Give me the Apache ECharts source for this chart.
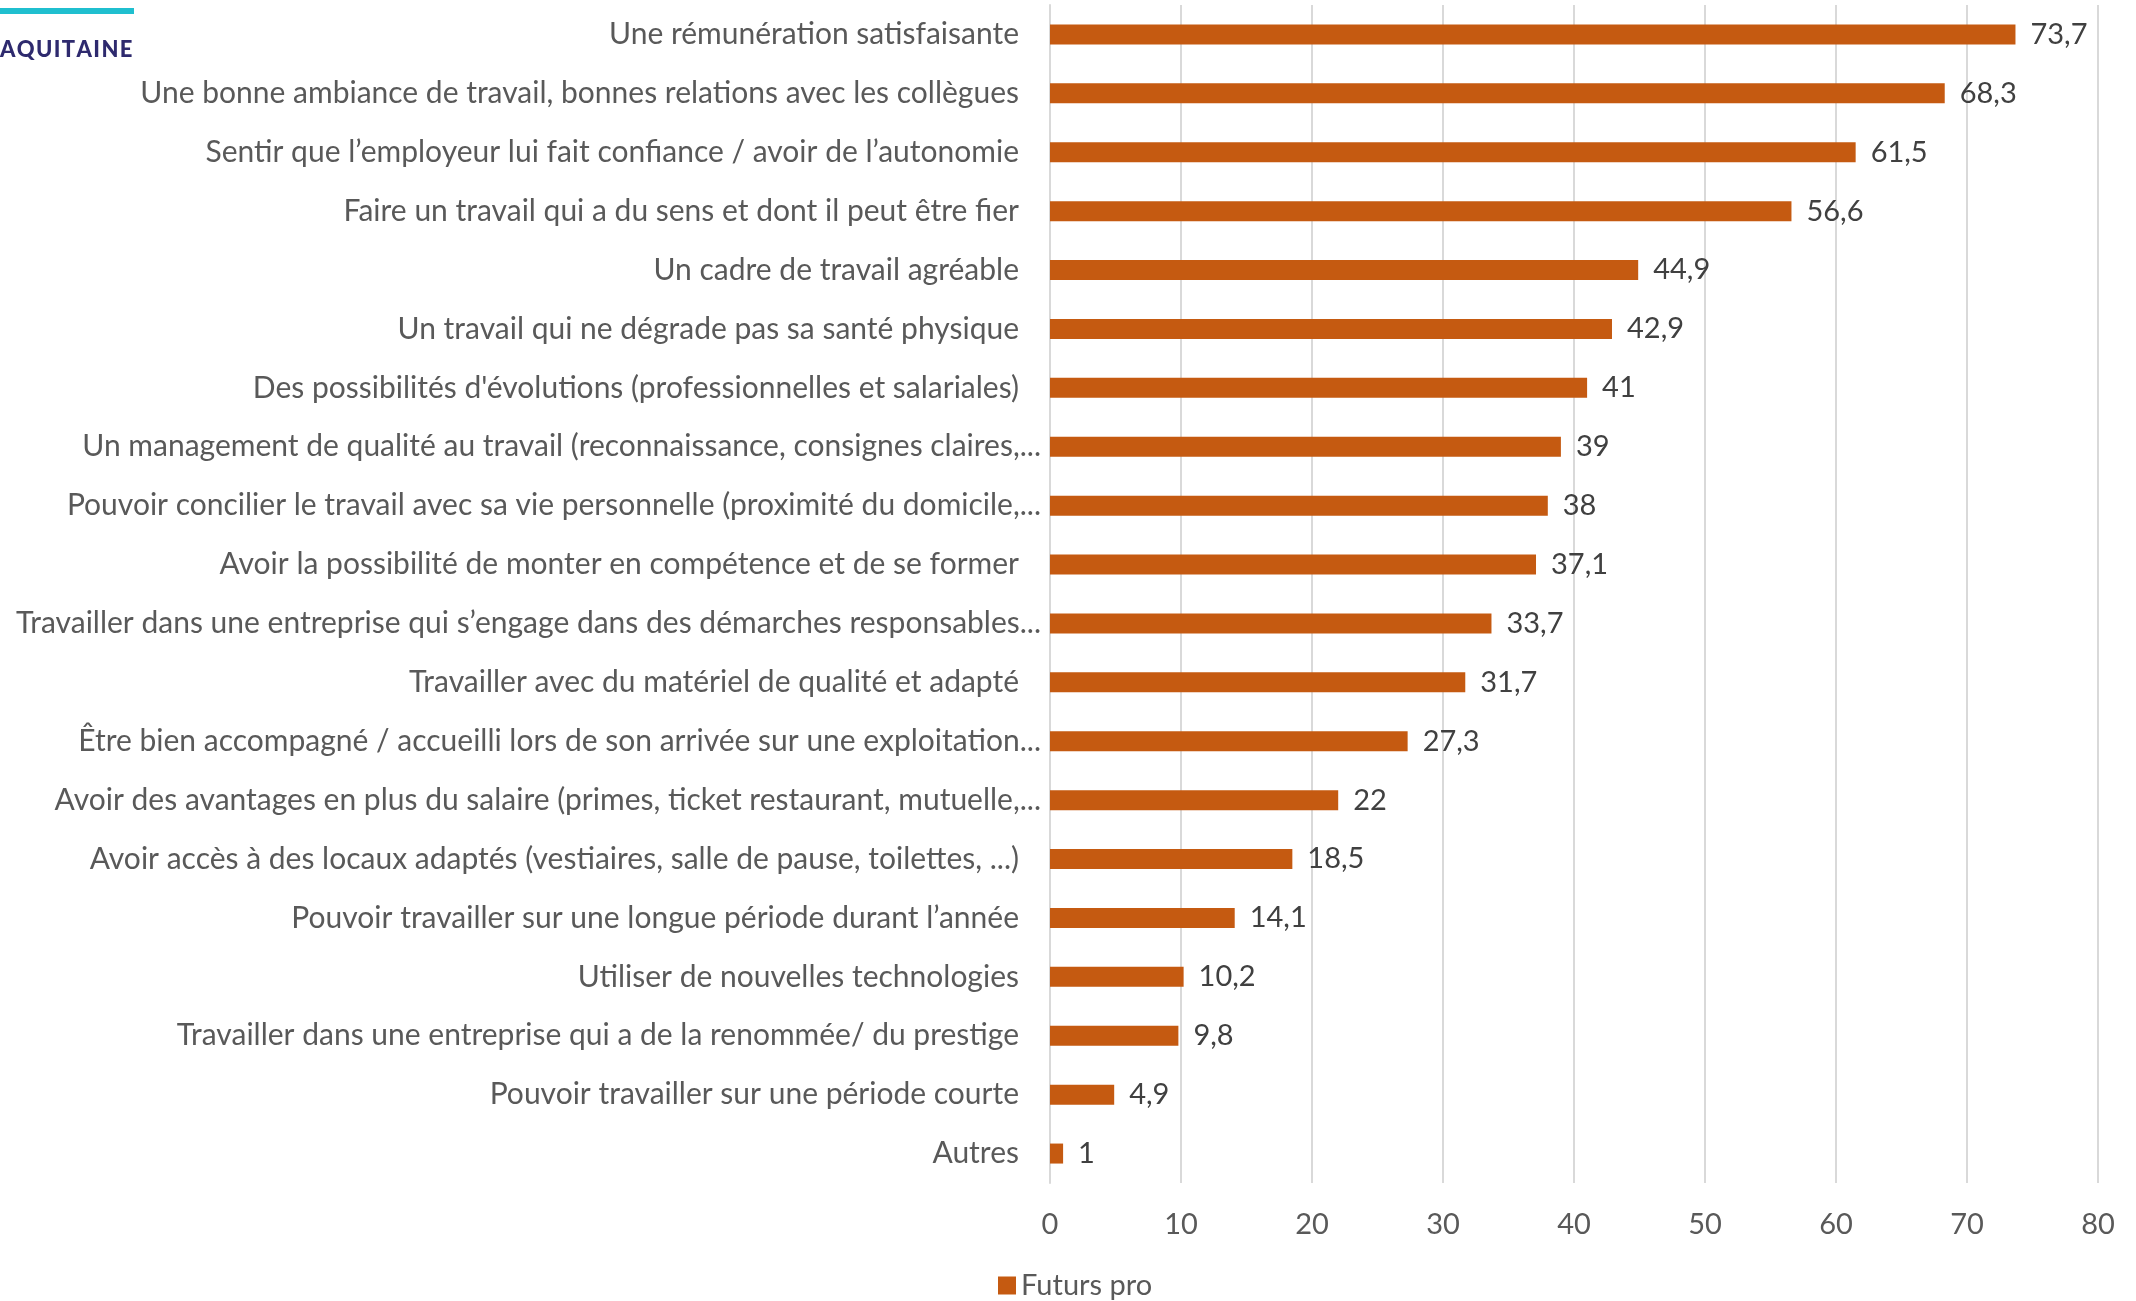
<!DOCTYPE html>
<html><head><meta charset="utf-8">
<script src="https://cdn.jsdelivr.net/npm/echarts@6/dist/echarts.min.js"></script>
<style>html,body{margin:0;padding:0;background:#fff}#c{width:2136px;height:1301px}</style>
</head><body><div id="c"></div>
<script>
const categories = [
  "Une rémunération satisfaisante",
  "Une bonne ambiance de travail, bonnes relations avec les collègues",
  "Sentir que l’employeur lui fait confiance / avoir de l’autonomie",
  "Faire un travail qui a du sens et dont il peut être fier",
  "Un cadre de travail agréable",
  "Un travail qui ne dégrade pas sa santé physique",
  "Des possibilités d'évolutions (professionnelles et salariales)",
  "Un management de qualité au travail (reconnaissance, consignes claires,...",
  "Pouvoir concilier le travail avec sa vie personnelle (proximité du domicile,...",
  "Avoir la possibilité de monter en compétence et de se former",
  "Travailler dans une entreprise qui s’engage dans des démarches responsables...",
  "Travailler avec du matériel de qualité et adapté",
  "Être bien accompagné / accueilli lors de son arrivée sur une exploitation...",
  "Avoir des avantages en plus du salaire (primes, ticket restaurant, mutuelle,...",
  "Avoir accès à des locaux adaptés (vestiaires, salle de pause, toilettes, ...)",
  "Pouvoir travailler sur une longue période durant l’année",
  "Utiliser de nouvelles technologies",
  "Travailler dans une entreprise qui a de la renommée/ du prestige",
  "Pouvoir travailler sur une période courte",
  "Autres"
];
const seriesName = "Futurs pro";
const values = [73.7, 68.3, 61.5, 56.6, 44.9, 42.9, 41, 39, 38, 37.1, 33.7, 31.7, 27.3, 22, 18.5, 14.1, 10.2, 9.8, 4.9, 1];
const xTicks = [0, 10, 20, 30, 40, 50, 60, 70, 80];

const FONT = "Lato";
const FS = 29;
const chart = echarts.init(document.getElementById('c'), null, {renderer: 'canvas'});
chart.setOption({
  animation: false,
  backgroundColor: '#fff',
  grid: {left: 1050, right: 38, top: 5, height: 1178, containLabel: false, outerBoundsMode: 'none'},
  xAxis: {
    type: 'value', min: xTicks[0], max: xTicks[xTicks.length - 1], interval: 10,
    axisLine: {show: false}, axisTick: {show: false},
    splitLine: {lineStyle: {color: '#d9d9d9', width: 2}},
    axisLabel: {color: '#595959', fontFamily: FONT, fontSize: FS, margin: 27}
  },
  yAxis: {
    type: 'category', data: categories, inverse: true,
    axisLine: {show: true, lineStyle: {color: '#d9d9d9', width: 2}},
    axisTick: {show: false},
    axisLabel: {color: '#595959', fontFamily: FONT, fontSize: 30, margin: 9,
      formatter: v => v.endsWith(',...') || v.endsWith('s...') || v.endsWith('n...') ? v : v + '{sp| }',
      rich: {sp: {width: 22, fontSize: 30}}}
  },
  legend: {
    data: [seriesName], left: 993, top: 1266,
    itemWidth: 18, itemHeight: 18, icon: 'rect', itemGap: 6,
    textStyle: {color: '#595959', fontFamily: FONT, fontSize: FS}
  },
  series: [{
    name: seriesName, type: 'bar', data: values, barWidth: 20,
    itemStyle: {color: '#c55a11'},
    label: {show: true, position: 'right', distance: 15, color: '#404040',
      fontFamily: FONT, fontSize: FS,
      formatter: p => String(p.value).replace('.', ',')}
  }],
  graphic: [
    {type: 'rect', left: 0, top: 8, shape: {width: 134, height: 6}, style: {fill: '#1fbfcf'}},
    {type: 'text', left: 0, top: 39, style: {text: 'A\u200AQ\u200AU\u200AI\u200AT\u200AA\u200AI\u200AN\u200AE', fill: '#2e2a6e',
      font: '900 22px Lato'}}
  ]
});
</script></body></html>
